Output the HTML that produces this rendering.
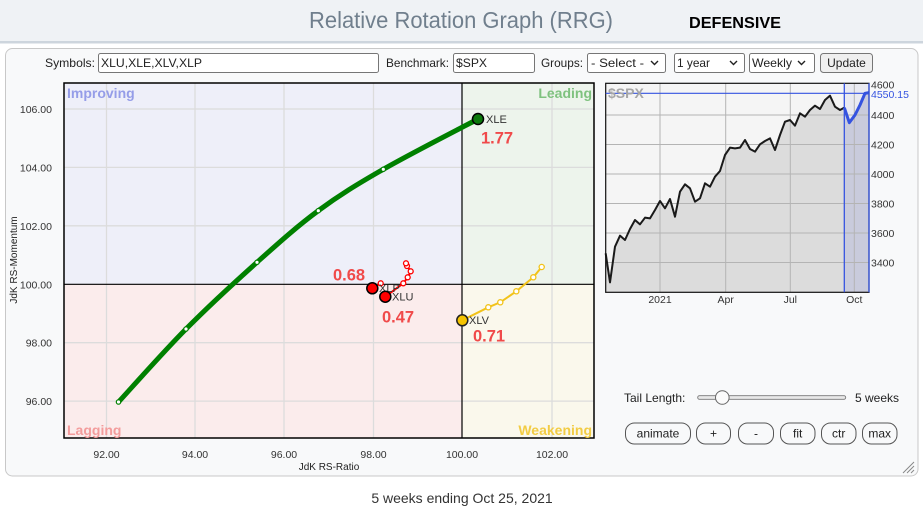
<!DOCTYPE html>
<html><head><meta charset="utf-8"><style>
html,body{margin:0;padding:0;background:#fff;}
svg{display:block;font-family:"Liberation Sans",Arial,sans-serif;}
</style></head><body>
<svg width="923" height="508" viewBox="0 0 923 508" xmlns="http://www.w3.org/2000/svg">
<!-- header -->
<rect x="0" y="0" width="923" height="42" fill="#eff2f5"/>
<rect x="0" y="41" width="923" height="2.5" fill="#cdd5dd"/>
<text x="309" y="28" font-size="23" fill="#707f8d" textLength="304" lengthAdjust="spacingAndGlyphs">Relative Rotation Graph (RRG)</text>
<text x="689" y="28" font-size="16" font-weight="bold" fill="#000" textLength="92" lengthAdjust="spacingAndGlyphs">DEFENSIVE</text>

<!-- panel -->
<rect x="5.5" y="48.5" width="912.5" height="427.5" rx="7" fill="#f8f9fa" stroke="#c8c8c8"/>

<!-- toolbar -->
<g font-size="12" fill="#222">
<text x="45" y="67" textLength="50" lengthAdjust="spacingAndGlyphs">Symbols:</text>
<rect x="98.5" y="53.5" width="280" height="19" rx="2" fill="#fff" stroke="#767676"/>
<text x="101" y="67" textLength="101" lengthAdjust="spacingAndGlyphs">XLU,XLE,XLV,XLP</text>
<text x="386" y="67" textLength="63" lengthAdjust="spacingAndGlyphs">Benchmark:</text>
<rect x="453.5" y="53.5" width="81" height="19" rx="2" fill="#fff" stroke="#767676"/>
<text x="456" y="67" textLength="31" lengthAdjust="spacingAndGlyphs">$SPX</text>
<text x="541" y="67" textLength="42" lengthAdjust="spacingAndGlyphs">Groups:</text>
<rect x="587.5" y="53.5" width="78" height="19" rx="2" fill="#fff" stroke="#767676"/>
<text x="591" y="67" textLength="53" lengthAdjust="spacingAndGlyphs">- Select -</text>
<rect x="674.5" y="53.5" width="70" height="19" rx="2" fill="#fff" stroke="#767676"/>
<text x="677" y="67" textLength="33" lengthAdjust="spacingAndGlyphs">1 year</text>
<rect x="749.5" y="53.5" width="65" height="19" rx="2" fill="#fff" stroke="#767676"/>
<text x="752" y="67" textLength="40" lengthAdjust="spacingAndGlyphs">Weekly</text>
<rect x="820.5" y="53.5" width="52" height="19" rx="3" fill="#efefef" stroke="#767676"/>
<text x="846.5" y="67" text-anchor="middle">Update</text>
</g>
<g fill="none" stroke="#222" stroke-width="1.4">
<polyline points="651,61 654.5,64.5 658,61"/>
<polyline points="730,61 733.5,64.5 737,61"/>
<polyline points="798,61 801.5,64.5 805,61"/>
</g>

<!-- RRG quadrants -->
<rect x="64" y="83" width="398" height="201.3" fill="#eeeff9"/>
<rect x="462" y="83" width="132" height="201.3" fill="#edf4ec"/>
<rect x="64" y="284.3" width="398" height="153.7" fill="#fbecec"/>
<rect x="462" y="284.3" width="132" height="153.7" fill="#faf8ec"/>
<g stroke="#dcdcdc" stroke-width="1.3">
<line x1="106.5" y1="83" x2="106.5" y2="438"/>
<line x1="195" y1="83" x2="195" y2="438"/>
<line x1="284" y1="83" x2="284" y2="438"/>
<line x1="373.5" y1="83" x2="373.5" y2="438"/>
<line x1="552" y1="83" x2="552" y2="438"/>
<line x1="64" y1="109" x2="594" y2="109"/>
<line x1="64" y1="167.4" x2="594" y2="167.4"/>
<line x1="64" y1="225.8" x2="594" y2="225.8"/>
<line x1="64" y1="342.7" x2="594" y2="342.7"/>
<line x1="64" y1="401.1" x2="594" y2="401.1"/>
</g>
<line x1="462" y1="83" x2="462" y2="438" stroke="#000" stroke-width="1.2"/>
<line x1="64" y1="284.3" x2="594" y2="284.3" stroke="#000" stroke-width="1.2"/>
<rect x="64" y="83" width="530" height="355" fill="none" stroke="#000" stroke-width="1.5"/>

<g font-size="14" font-weight="bold">
<text x="67" y="98" fill="#959de8">Improving</text>
<text x="592" y="98" fill="#7fc27f" text-anchor="end">Leading</text>
<text x="67" y="435" fill="#f39c9c">Lagging</text>
<text x="592" y="435" fill="#f2cc44" text-anchor="end">Weakening</text>
</g>

<!-- axis labels -->
<g font-size="10.5" fill="#333">
<text x="52" y="113" text-anchor="end">106.00</text>
<text x="52" y="171.4" text-anchor="end">104.00</text>
<text x="52" y="229.8" text-anchor="end">102.00</text>
<text x="52" y="288.3" text-anchor="end">100.00</text>
<text x="52" y="346.7" text-anchor="end">98.00</text>
<text x="52" y="405.1" text-anchor="end">96.00</text>
<text x="106.5" y="458" text-anchor="middle">92.00</text>
<text x="195" y="458" text-anchor="middle">94.00</text>
<text x="284" y="458" text-anchor="middle">96.00</text>
<text x="373.5" y="458" text-anchor="middle">98.00</text>
<text x="462" y="458" text-anchor="middle">100.00</text>
<text x="552" y="458" text-anchor="middle">102.00</text>
</g>
<text x="329" y="470" font-size="10" fill="#222" text-anchor="middle">JdK RS-Ratio</text>
<text transform="translate(17,260) rotate(-90)" font-size="10" fill="#222" text-anchor="middle">JdK RS-Momentum</text>

<!-- XLE tail -->
<path d="M118.5,402 C129.75,389.83 162.92,352.28 186,329 C209.08,305.72 234.95,282.02 257,262.3 C279.05,242.58 297.25,226.2 318.3,210.7 C339.35,195.2 356.68,184.58 383.3,169.3 C409.92,154.02 462.22,127.38 478,119" fill="none" stroke="#008000" stroke-width="5" stroke-linecap="round"/>
<g fill="#fff" stroke="#008000" stroke-width="1.2">
<circle cx="118.5" cy="402" r="2.2"/>
<circle cx="186" cy="329" r="2.2"/>
<circle cx="257" cy="262.3" r="2.2"/>
<circle cx="318.3" cy="210.7" r="2.2"/>
<circle cx="383.3" cy="169.3" r="2.2"/>
</g>
<circle cx="478" cy="119" r="5.5" fill="#0b7a0b" stroke="#000" stroke-width="1.5"/>
<text x="486" y="123" font-size="11" fill="#333">XLE</text>
<text x="481" y="143.5" font-size="16.5" font-weight="bold" fill="#f04a4a">1.77</text>

<!-- XLV tail -->
<polyline points="462.3,320.3 488.3,307.3 500.3,302.3 516.3,291.3 533.3,277.3 541.7,267" fill="none" stroke="#f2c31a" stroke-width="2"/>
<g fill="#fff" stroke="#f2c31a" stroke-width="1.3">
<circle cx="488.3" cy="307.3" r="2.6"/>
<circle cx="500.3" cy="302.3" r="2.6"/>
<circle cx="516.3" cy="291.3" r="2.6"/>
<circle cx="533.3" cy="277.3" r="2.6"/>
<circle cx="541.7" cy="267" r="2.6"/>
</g>
<circle cx="462.3" cy="320.3" r="5.5" fill="#f5c400" stroke="#222" stroke-width="1.5"/>
<text x="469" y="324" font-size="11" fill="#333">XLV</text>
<text x="473" y="341.5" font-size="16.5" font-weight="bold" fill="#f04a4a">0.71</text>

<!-- XLP / XLU tails -->
<polyline points="372.3,288.3 380.7,283.3" fill="none" stroke="#ff0000" stroke-width="2"/>
<polyline points="385.3,296.7 403.3,283.3 407.7,277.3 410.7,271.3 407,266 406,263.3" fill="none" stroke="#ff0000" stroke-width="2"/>
<g fill="#fff" stroke="#ff0000" stroke-width="1.3">
<circle cx="380.7" cy="283.3" r="2.5"/>
<circle cx="403.3" cy="283.3" r="2.5"/>
<circle cx="407.7" cy="277.3" r="2.5"/>
<circle cx="410.7" cy="271.3" r="2.5"/>
<circle cx="407" cy="266" r="2.5"/>
<circle cx="406" cy="263.3" r="2.5"/>
</g>
<circle cx="372.3" cy="288.3" r="5.5" fill="#ff0000" stroke="#000" stroke-width="1.5"/>
<text x="379" y="292" font-size="11" fill="#333">XLP</text>
<circle cx="385.3" cy="296.7" r="5.5" fill="#ff0000" stroke="#000" stroke-width="1.5"/>
<text x="392" y="300.5" font-size="11" fill="#333">XLU</text>
<text x="333" y="280.5" font-size="16.5" font-weight="bold" fill="#f04a4a">0.68</text>
<text x="382" y="322.5" font-size="16.5" font-weight="bold" fill="#f04a4a">0.47</text>

<!-- mini chart -->
<rect x="605.7" y="83.3" width="263.3" height="209" fill="#f5f5f5"/>
<g transform="translate(595,75) scale(0.33333)">
<polygon points="32,535 45,622 60,515 75,482 90,495 105,462 120,435 135,448 150,428 165,430 180,405 195,378 210,400 225,372 240,425 255,350 270,328 285,340 300,380 315,370 330,325 345,335 360,305 375,288 390,240 405,218 420,220 435,218 450,195 465,222 480,230 495,208 510,198 525,190 540,225 555,180 570,140 585,135 600,152 615,115 630,125 645,105 660,92 675,102 690,75 705,62 720,95 735,105 748,98 748,652 32,652" fill="#dcdcdc"/>
<rect x="748" y="25" width="74" height="627" fill="#e9eaf1"/>
<polygon points="748,98 763,143 780,120 795,90 810,55 822,53 822,652 748,652" fill="#c9cbdc"/>
</g>
<g stroke="#b4b4b4" stroke-width="1">
<line x1="660" y1="83.3" x2="660" y2="292.3"/>
<line x1="725.7" y1="83.3" x2="725.7" y2="292.3"/>
<line x1="790.3" y1="83.3" x2="790.3" y2="292.3"/>
<line x1="854.3" y1="83.3" x2="854.3" y2="292.3"/>
<line x1="605.7" y1="115" x2="869" y2="115"/>
<line x1="605.7" y1="144.5" x2="869" y2="144.5"/>
<line x1="605.7" y1="174" x2="869" y2="174"/>
<line x1="605.7" y1="203.5" x2="869" y2="203.5"/>
<line x1="605.7" y1="233" x2="869" y2="233"/>
<line x1="605.7" y1="262.5" x2="869" y2="262.5"/>
</g>
<g transform="translate(595,75) scale(0.33333)" fill="none">
<polyline points="32,535 45,622 60,515 75,482 90,495 105,462 120,435 135,448 150,428 165,430 180,405 195,378 210,400 225,372 240,425 255,350 270,328 285,340 300,380 315,370 330,325 345,335 360,305 375,288 390,240 405,218 420,220 435,218 450,195 465,222 480,230 495,208 510,198 525,190 540,225 555,180 570,140 585,135 600,152 615,115 630,125 645,105 660,92 675,102 690,75 705,62 720,95 735,105 748,98" stroke="#1a1a1a" stroke-width="6" stroke-linejoin="round"/>
<polyline points="748,98 763,143 780,120 795,90 810,55 822,53" stroke="#3553e0" stroke-width="9" stroke-linejoin="round"/>
</g>
<rect x="605.7" y="83.3" width="263.3" height="209" fill="none" stroke="#111" stroke-width="1.2"/>
<line x1="605.7" y1="93.3" x2="869" y2="93.3" stroke="#3553e0" stroke-width="1.2"/>
<line x1="844.3" y1="83.3" x2="844.3" y2="292.3" stroke="#3553e0" stroke-width="1.3"/>
<line x1="869" y1="83.3" x2="869" y2="292.3" stroke="#3553e0" stroke-width="1.3"/>
<text x="608" y="98" font-size="14" font-weight="bold" fill="#a6a6a6">$SPX</text>
<g font-size="10.5" fill="#333">
<text x="871" y="88.5">4600</text>
<text x="871" y="119">4400</text>
<text x="871" y="148.5">4200</text>
<text x="871" y="178">4000</text>
<text x="871" y="207.5">3800</text>
<text x="871" y="237">3600</text>
<text x="871" y="266.5">3400</text>
<text x="660" y="303" text-anchor="middle">2021</text>
<text x="725.7" y="303" text-anchor="middle">Apr</text>
<text x="790.3" y="303" text-anchor="middle">Jul</text>
<text x="854.3" y="303" text-anchor="middle">Oct</text>
</g>
<rect x="870" y="90" width="46" height="9" fill="#f8f9fa"/>
<text x="871" y="98" font-size="10.5" fill="#3553e0">4550.15</text>

<!-- tail length slider -->
<text x="624" y="402" font-size="12" fill="#222">Tail Length:</text>
<rect x="697.7" y="395.7" width="148" height="3.6" rx="1.8" fill="#e8e8e8" stroke="#777" stroke-width="0.9"/>
<circle cx="722.3" cy="397.5" r="6.8" fill="#fbfbfb" stroke="#666" stroke-width="1"/>
<text x="855" y="402" font-size="12" fill="#222">5 weeks</text>

<!-- buttons -->
<g fill="#f8f9fa" stroke="#555" stroke-width="1">
<rect x="625.5" y="423" width="65" height="21" rx="9"/>
<rect x="696.5" y="423" width="34" height="21" rx="9"/>
<rect x="738.5" y="423" width="35" height="21" rx="9"/>
<rect x="780.5" y="423" width="34.5" height="21" rx="9"/>
<rect x="821.5" y="423" width="34.5" height="21" rx="9"/>
<rect x="862.5" y="423" width="34.5" height="21" rx="9"/>
</g>
<g font-size="12" fill="#222" text-anchor="middle">
<text x="658" y="437.5">animate</text>
<text x="713.5" y="437.5">+</text>
<text x="756" y="437.5">-</text>
<text x="797.7" y="437.5">fit</text>
<text x="838.7" y="437.5">ctr</text>
<text x="879.7" y="437.5">max</text>
</g>
<!-- resize handle -->
<g stroke="#888" stroke-width="1">
<line x1="903" y1="473" x2="914" y2="462"/>
<line x1="907" y1="473" x2="914" y2="466"/>
<line x1="911" y1="473" x2="914" y2="470"/>
</g>

<text x="462" y="503" font-size="14" fill="#333" text-anchor="middle">5 weeks ending Oct 25, 2021</text>
</svg>
</body></html>
